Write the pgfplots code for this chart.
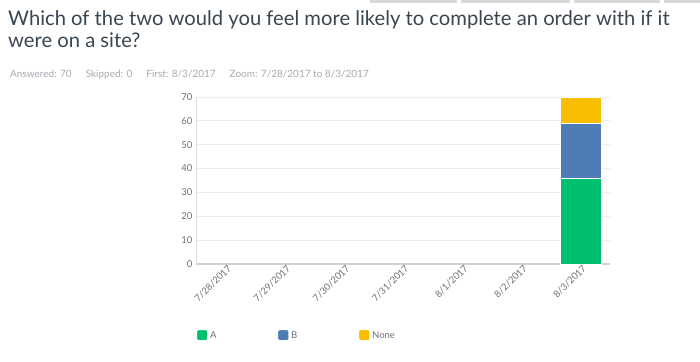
\documentclass[border=0pt]{standalone}
\usepackage{pgfplots}
\pgfplotsset{compat=1.18}
\usepackage{fontspec}
\setmainfont{Lato}
\definecolor{cA}{HTML}{00BF6F}
\definecolor{cB}{HTML}{507CB6}
\definecolor{cN}{HTML}{F9BE00}
\definecolor{txt}{HTML}{3B4550}
\definecolor{sub}{HTML}{A3AAB1}
\definecolor{tick}{HTML}{6B7178}
\definecolor{tab}{HTML}{D6D8DA}
\begin{document}
\begin{tikzpicture}
\useasboundingbox (0pt,0pt) rectangle (700pt,361pt);
\fill[tab] (370pt,358pt) rectangle (457pt,361pt);
\fill[tab] (461pt,358pt) rectangle (570pt,361pt);
\fill[tab] (574pt,358pt) rectangle (660pt,361pt);
\fill[tab] (664pt,358pt) rectangle (700pt,361pt);
\node[anchor=base west, inner sep=0, text=txt, font=\fontsize{20.2}{24}\selectfont] at (8pt,335pt) {Which of the two would you feel more likely to complete an order with if it};
\node[anchor=base west, inner sep=0, text=txt, font=\fontsize{20.2}{24}\selectfont] at (8pt,313pt) {were on a site?};
\node[anchor=base west, inner sep=0, text=sub, font=\fontsize{10}{12}\selectfont] at (10pt,283pt) {Answered: 70\hspace{14pt}Skipped: 0\hspace{14pt}First: 8/3/2017\hspace{14pt}Zoom: 7/28/2017 to 8/3/2017};
\begin{axis}[
  at={(196pt,97pt)}, anchor=south west,
  scale only axis, width=414pt, height=167pt,
  ybar stacked, bar width=41pt,
  xmin=-0.5, xmax=6.5, ymin=0, ymax=70,
  xtick={0,...,6},
  xticklabels={7/28/2017,7/29/2017,7/30/2017,7/31/2017,8/1/2017,8/2/2017,8/3/2017},
  x tick label style={rotate=45, anchor=north east, font=\fontsize{9.5}{10}\selectfont, text=tick, inner sep=1pt, xshift=2pt},
  ytick={0,10,...,70},
  y tick label style={font=\fontsize{9.5}{11}\selectfont, text=tick},
  /pgf/number format/assume math mode=true,
  major tick length=0,
  ymajorgrids, grid style={color=black!7, line width=0.8pt},
  axis x line*=bottom, axis y line*=left,
  x axis line style={draw=black!18, line width=1.2pt, -},
  y axis line style={draw=black!12, line width=1pt, -},
  legend style={at={(-3pt,-63pt)}, anchor=north west, draw=none, fill=none,
    legend columns=3, font=\fontsize{9.5}{11}\selectfont, text=tick,
    /tikz/every even column/.append style={column sep=59pt}},
  legend image code/.code={\fill[#1, rounded corners=1.5pt] (0pt,-5pt) rectangle (11pt,6pt);},
]
\addplot[fill=cA, draw=white, line width=0.8pt] coordinates {(0,0) (1,0) (2,0) (3,0) (4,0) (5,0) (6,36)};
\addplot[fill=cB, draw=white, line width=0.8pt] coordinates {(0,0) (1,0) (2,0) (3,0) (4,0) (5,0) (6,23)};
\addplot[fill=cN, draw=white, line width=0.8pt] coordinates {(0,0) (1,0) (2,0) (3,0) (4,0) (5,0) (6,11)};
\legend{A,B,None}
\end{axis}
\end{tikzpicture}
\end{document}
